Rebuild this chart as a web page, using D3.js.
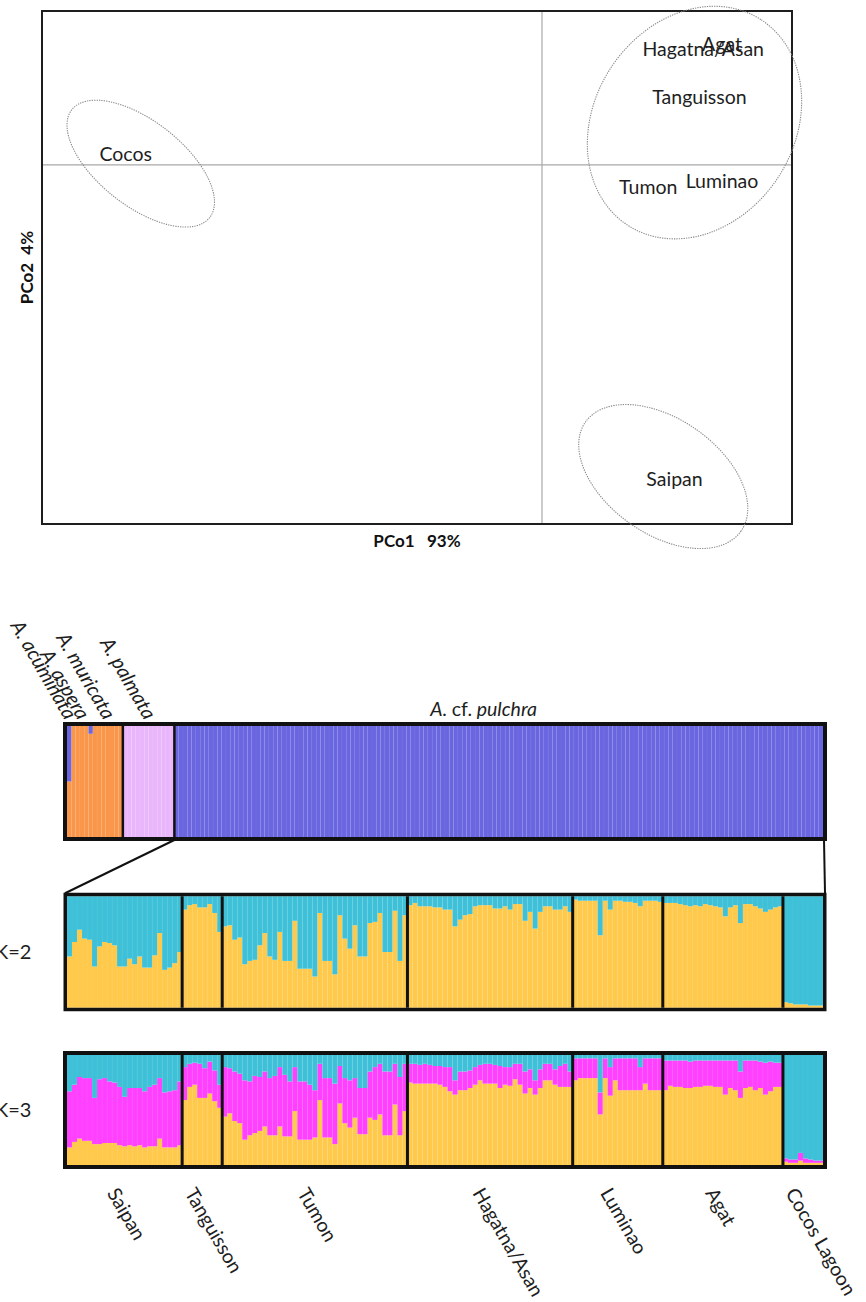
<!DOCTYPE html>
<html>
<head>
<meta charset="utf-8">
<script src="https://cdn.jsdelivr.net/npm/d3@7"></script>
<style>
  html, body { margin: 0; padding: 0; background: #fff; overflow: hidden; }
  svg { display: block; font-family: Lato, "Open Sans", sans-serif; }
</style>
</head>
<body>
<svg id="fig" width="866" height="1302"></svg>
<script>
// ---------- Principal coordinates analysis ----------
const pcoSites   = ["Cocos", "Hagatna/Asan", "Agat", "Tanguisson", "Tumon", "Luminao", "Saipan"];
const pco1Scores = [-33.3, 12.9, 14.4, 12.6, 8.5, 14.4, 10.6];
const pco2Scores = [0.8, 9.0, 9.4, 5.3, -1.7, -1.3, -24.5];
const pco1Extent = [-40, 20];
const pco2Extent = [12, -28];
const pcoAxisTitles = ["PCo1   93%", "PCo2  4%"];

// grouping ellipses (centre, semi-axes in PCo units, tilt in degrees)
const groupCentre1 = [-32.1, 12.2, 9.7];
const groupCentre2 = [0.1, 3.3, -24.3];
const groupMajor   = [7.0, 9.8, 7.6];
const groupMinor   = [3.4, 8.0, 4.6];
const groupTilt    = [38, -57, 35];

// ---------- Admixture: species level ----------
const speciesNames = ["A. acuminata", "A. aspera", "A. muricata", "A. palmata", "A. cf. pulchra"];
const acuminataBlue = [50];
const asperaBlue    = [0, 0, 0, 0, 7];
const muricataBlue  = [0, 0, 0, 0, 0, 0, 0];
const palmataPink   = [100, 100, 100, 100, 100, 100, 100, 100, 100, 100, 100, 100];
const pulchraBlue   = [
  100, 100, 100, 100, 100, 100, 100, 100, 100, 100, 100, 100, 100, 100, 100, 100, 100, 100, 100, 100,
  100, 100, 100, 100, 100, 100, 100, 100, 100, 100, 100, 100, 100, 100, 100, 100, 100, 100, 100, 100,
  100, 100, 100, 100, 100, 100, 100, 100, 100, 100, 100, 100, 100, 100, 100, 100, 100, 100, 100, 100,
  100, 100, 100, 100, 100, 100, 100, 100, 100, 100, 100, 100, 100, 100, 100, 100, 100, 100, 100, 100,
  100, 100, 100, 100, 100, 100, 100, 100, 100, 100, 100, 100, 100, 100, 100, 100, 100, 100, 100, 100,
  100, 100, 100, 100, 100, 100, 100, 100, 100, 100, 100, 100, 100, 100, 100, 100, 100, 100, 100, 100,
  100, 100, 100, 100, 100, 100, 100, 100, 100, 100, 100, 100, 100, 100, 100, 100, 100, 100, 100, 100,
  100, 100, 100, 100, 100, 100, 100, 100, 100, 100, 100
];
const dividedSpecies = ["A. palmata", "A. cf. pulchra"];

// ---------- Admixture: A. cf. pulchra populations ----------
const populations = ["Saipan", "Tanguisson", "Tumon", "Hagatna/Asan", "Luminao", "Agat", "Cocos Lagoon"];

// K = 2, yellow membership (%) ; remainder is cyan
const k2Saipan = [46, 59, 70, 62, 61, 37, 55, 59, 58, 56, 37, 37, 44, 39, 46, 36, 36, 47, 67, 34, 36, 40, 50];
const k2Tanguisson = [88, 92, 93, 90, 90, 93, 85, 68];
const k2Tumon = [73, 74, 61, 63, 39, 42, 43, 56, 67, 46, 43, 68, 42, 42, 78, 35, 35, 35, 28, 85, 42, 42, 30, 83, 62, 53, 74, 46, 46, 76, 77, 85, 50, 50, 87, 42, 83];
const k2Hagatna = [92, 94, 91, 91, 91, 90, 90, 88, 88, 73, 79, 83, 84, 91, 92, 92, 92, 89, 89, 91, 88, 93, 93, 78, 86, 71, 86, 91, 91, 88, 88, 91, 86];
const k2Luminao = [97, 96, 96, 96, 96, 65, 96, 88, 96, 96, 95, 95, 94, 91, 96, 96, 96, 95];
const k2Agat = [94, 94, 94, 93, 92, 91, 92, 91, 93, 92, 91, 90, 82, 90, 92, 76, 93, 93, 91, 89, 86, 88, 90, 91];
const k2Cocos = [5, 4, 3, 3, 3, 2, 2, 2];

// K = 3, cyan and yellow membership (%) ; remainder is magenta
const k3SaipanCyan = [33, 27, 20, 21, 21, 39, 22, 21, 24, 25, 29, 38, 30, 30, 30, 33, 29, 27, 21, 34, 33, 32, 24];
const k3SaipanYellow = [16, 21, 24, 22, 22, 19, 19, 20, 20, 20, 18, 17, 18, 17, 18, 16, 17, 17, 24, 16, 16, 16, 18];
const k3TanguissonCyan = [11, 8, 7, 8, 12, 6, 14, 27];
const k3TanguissonYellow = [59, 71, 73, 61, 61, 65, 58, 52];
const k3TumonCyan = [11, 12, 15, 17, 23, 24, 19, 20, 15, 21, 19, 11, 18, 24, 11, 24, 24, 27, 32, 8, 21, 21, 26, 10, 21, 23, 21, 30, 30, 15, 11, 8, 15, 15, 8, 20, 8];
const k3TumonYellow = [44, 47, 40, 38, 23, 27, 29, 31, 35, 27, 27, 35, 26, 26, 49, 23, 23, 23, 25, 59, 25, 25, 19, 56, 38, 34, 43, 28, 28, 43, 41, 46, 27, 27, 55, 27, 49];
const k3HagatnaCyan = [8, 8, 9, 8, 9, 10, 10, 11, 11, 23, 15, 15, 14, 11, 9, 8, 8, 9, 10, 11, 11, 8, 8, 15, 13, 23, 13, 8, 8, 13, 10, 8, 15];
const k3HagatnaYellow = [75, 74, 74, 74, 74, 74, 73, 71, 67, 64, 68, 68, 70, 73, 77, 74, 74, 74, 70, 73, 72, 78, 73, 65, 70, 64, 70, 77, 77, 73, 71, 71, 71];
const k3LuminaoCyan = [3, 3, 3, 3, 3, 34, 3, 11, 3, 3, 3, 3, 3, 11, 3, 3, 3, 3];
const k3LuminaoYellow = [77, 79, 79, 79, 79, 46, 79, 63, 77, 68, 68, 68, 68, 68, 74, 68, 68, 68];
const k3AgatCyan = [5, 5, 5, 5, 5, 6, 5, 5, 5, 5, 5, 5, 5, 5, 5, 15, 5, 5, 5, 6, 7, 6, 7, 7];
const k3AgatYellow = [68, 72, 71, 71, 70, 70, 71, 71, 72, 72, 71, 71, 64, 70, 68, 61, 70, 71, 68, 70, 64, 67, 71, 71];
const k3CocosCyan = [94, 95, 95, 89, 94, 95, 96, 96];
const k3CocosYellow = [3, 2, 2, 4, 2, 2, 2, 2];

const kLabels = ["K=2", "K=3"];

const clusterColour = {
  yellow: "#FFC94B", cyan: "#3EC1D8", magenta: "#FF40FF",
  orange: "#F9964A", pink: "#EAB6FB", blue: "#6A66E0"
};

const svg = d3.select("#fig");

// =====================================================
// PCoA panel
// =====================================================
const frame = { left: 42, right: 792, top: 11, bottom: 524 };
const xP = d3.scaleLinear().domain(pco1Extent).range([frame.left, frame.right]);
const yP = d3.scaleLinear().domain(pco2Extent).range([frame.top, frame.bottom]);
const unit = xP(1) - xP(0);

const pg = svg.append("g");

// zero lines
pg.append("line")
  .attr("x1", xP(0)).attr("x2", xP(0))
  .attr("y1", frame.top).attr("y2", frame.bottom)
  .attr("stroke", "#a8a8a8").attr("stroke-width", 1.2);
pg.append("line")
  .attr("x1", frame.left).attr("x2", frame.right)
  .attr("y1", yP(0)).attr("y2", yP(0))
  .attr("stroke", "#a8a8a8").attr("stroke-width", 1.2);

// frame
pg.append("rect")
  .attr("x", frame.left).attr("y", frame.top)
  .attr("width", frame.right - frame.left).attr("height", frame.bottom - frame.top)
  .attr("fill", "none").attr("stroke", "#1e1e1e").attr("stroke-width", 2);

// ellipses around groups of sites
pg.selectAll("ellipse.group")
  .data(d3.range(groupCentre1.length))
  .join("ellipse")
  .attr("class", "group")
  .attr("cx", i => xP(groupCentre1[i]))
  .attr("cy", i => yP(groupCentre2[i]))
  .attr("rx", i => groupMajor[i] * unit)
  .attr("ry", i => groupMinor[i] * unit)
  .attr("transform", i => `rotate(${groupTilt[i]},${xP(groupCentre1[i])},${yP(groupCentre2[i])})`)
  .attr("fill", "none")
  .attr("stroke", "#8a8a8a")
  .attr("stroke-width", 1.1)
  .attr("stroke-dasharray", "1.3,1.1");

// site names
pg.selectAll("text.site")
  .data(pcoSites)
  .join("text")
  .attr("class", "site")
  .attr("x", (d, i) => xP(pco1Scores[i]))
  .attr("y", (d, i) => yP(pco2Scores[i]))
  .attr("dy", "0.35em")
  .attr("text-anchor", "middle")
  .attr("font-size", 19.5)
  .attr("fill", "#1e1e1e")
  .text(d => d);

// axis titles
pg.append("text")
  .attr("x", (frame.left + frame.right) / 2)
  .attr("y", frame.bottom + 23)
  .attr("text-anchor", "middle")
  .attr("font-size", 17).attr("font-weight", 700)
  .style("white-space", "pre")
  .attr("fill", "#111")
  .text(pcoAxisTitles[0]);
pg.append("text")
  .attr("transform", `translate(${frame.left - 9},${(frame.top + frame.bottom) / 2}) rotate(-90)`)
  .attr("text-anchor", "middle")
  .attr("font-size", 17).attr("font-weight", 700)
  .style("white-space", "pre")
  .attr("fill", "#111")
  .text(pcoAxisTitles[1]);

// =====================================================
// Admixture bar plots
// =====================================================
const barLeft = 67, barRight = 823;
const panels = {
  species: { top: 726, bottom: 837, border: 4 },
  k2:      { top: 896.25, bottom: 1007.75, border: 3.5 },
  k3:      { top: 1055, bottom: 1165, border: 4 }
};

function drawAdmixture(rows, keys, panel, groupStarts, dividerWidth) {
  const x = d3.scaleBand().domain(d3.range(rows.length)).range([barLeft, barRight]);
  const y = d3.scaleLinear().domain([0, 100]).range([panel.bottom, panel.top]);
  const series = d3.stack().keys(keys)(rows);
  const g = svg.append("g");

  g.selectAll("g.layer")
    .data(series)
    .join("g")
    .attr("fill", s => clusterColour[s.key])
    .selectAll("rect")
    .data(s => s)
    .join("rect")
    .attr("x", (d, i) => x(i))
    .attr("width", x.bandwidth() + 0.02)
    .attr("y", d => y(d[1]))
    .attr("height", d => Math.max(0, y(d[0]) - y(d[1])));

  // faint separators between individuals
  g.selectAll("line.ind")
    .data(d3.range(1, rows.length))
    .join("line")
    .attr("x1", i => x(i)).attr("x2", i => x(i))
    .attr("y1", panel.top).attr("y2", panel.bottom)
    .attr("stroke", "#ffffff").attr("stroke-opacity", 0.07).attr("stroke-width", 0.6);

  // group dividers
  g.selectAll("line.div")
    .data(groupStarts)
    .join("line")
    .attr("x1", s => x(s)).attr("x2", s => x(s))
    .attr("y1", panel.top).attr("y2", panel.bottom)
    .attr("stroke", "#111").attr("stroke-width", dividerWidth);

  // frame
  const b = panel.border;
  g.append("rect")
    .attr("x", barLeft - b / 2).attr("y", panel.top - b / 2)
    .attr("width", barRight - barLeft + b).attr("height", panel.bottom - panel.top + b)
    .attr("fill", "none").attr("stroke", "#111").attr("stroke-width", b);

  return x;
}

function cumulativeStarts(counts) {
  const starts = [];
  let acc = 0;
  counts.forEach(c => { starts.push(acc); acc += c; });
  return starts;
}

// ---- species panel ----
const speciesTable = [
  { name: speciesNames[0], blue: acuminataBlue },
  { name: speciesNames[1], blue: asperaBlue },
  { name: speciesNames[2], blue: muricataBlue },
  { name: speciesNames[3], pink: palmataPink },
  { name: speciesNames[4], blue: pulchraBlue }
];
const speciesRows = speciesTable.flatMap(s => {
  if (s.pink) return s.pink.map(p => ({ orange: 100 - p, pink: p, blue: 0 }));
  if (s.name === speciesNames[4]) return s.blue.map(b => ({ orange: 0, pink: 0, blue: b }));
  return s.blue.map(b => ({ orange: 100 - b, pink: 0, blue: b }));
});
const speciesCounts = speciesTable.map(s => (s.pink || s.blue).length);
const speciesStarts = cumulativeStarts(speciesCounts);
const speciesDividers = speciesTable
  .map((s, i) => dividedSpecies.includes(s.name) ? speciesStarts[i] : null)
  .filter(v => v !== null);

const xSp = drawAdmixture(speciesRows, ["orange", "pink", "blue"], panels.species, speciesDividers, 2.5);

// species labels
const bwSp = xSp.bandwidth();
speciesTable.forEach((s, i) => {
  const cx = xSp(speciesStarts[i]) + speciesCounts[i] * bwSp / 2;
  if (i === speciesTable.length - 1) {
    const t = svg.append("text")
      .attr("x", cx - 15).attr("y", panels.species.top - 10)
      .attr("text-anchor", "middle").attr("font-size", 19.5).attr("fill", "#1e1e1e");
    t.append("tspan").attr("font-style", "italic").text("A. ");
    t.append("tspan").text("cf.");
    t.append("tspan").attr("font-style", "italic").text(" pulchra");
  } else {
    svg.append("text")
      .attr("transform", `translate(${cx - 4},${panels.species.top - 5}) rotate(60)`)
      .attr("text-anchor", "end")
      .attr("font-size", 20).attr("font-style", "italic").attr("fill", "#1e1e1e")
      .text(s.name);
  }
});

// ---- K = 2 and K = 3 panels ----
const k2Yellow = [k2Saipan, k2Tanguisson, k2Tumon, k2Hagatna, k2Luminao, k2Agat, k2Cocos];
const k3Cyan = [k3SaipanCyan, k3TanguissonCyan, k3TumonCyan, k3HagatnaCyan, k3LuminaoCyan, k3AgatCyan, k3CocosCyan];
const k3Yellow = [k3SaipanYellow, k3TanguissonYellow, k3TumonYellow, k3HagatnaYellow, k3LuminaoYellow, k3AgatYellow, k3CocosYellow];

const k2Rows = k2Yellow.flatMap(arr => arr.map(v => ({ yellow: v, cyan: 100 - v })));
const k3Rows = k3Cyan.flatMap((arr, g) => arr.map((c, i) => {
  const yv = k3Yellow[g][i];
  return { yellow: yv, magenta: Math.max(0, 100 - c - yv), cyan: c };
}));

const popCounts = k2Yellow.map(a => a.length);
const popStarts = cumulativeStarts(popCounts);
const popDividers = popStarts.slice(1);

const xK2 = drawAdmixture(k2Rows, ["yellow", "cyan"], panels.k2, popDividers, 3);
const xK3 = drawAdmixture(k3Rows, ["yellow", "magenta", "cyan"], panels.k3, popDividers, 3);

// connecting lines from the A. cf. pulchra block to the population panels
const pulchraStartX = xSp(speciesStarts[4]);
const zoomLines = [
  [[pulchraStartX, panels.species.bottom + 3], [barLeft - 2, panels.k2.top - 3]],
  [[barRight + 1, panels.species.bottom + 3], [barRight + 2, panels.k2.top - 3]]
];
svg.selectAll("path.zoom")
  .data(zoomLines)
  .join("path")
  .attr("d", d => d3.line()(d))
  .attr("stroke", "#111").attr("stroke-width", 2).attr("fill", "none");

// K labels (left edge trimmed by the page border)
[panels.k2, panels.k3].forEach((p, i) => {
  svg.append("text")
    .attr("x", -5).attr("y", (p.top + p.bottom) / 2)
    .attr("dy", "0.35em")
    .attr("text-anchor", "start")
    .attr("font-size", 20).attr("fill", "#1e1e1e")
    .text(kLabels[i]);
});

// population labels
const bwK = xK3.bandwidth();
populations.forEach((name, i) => {
  const cx = xK3(popStarts[i]) + popCounts[i] * bwK / 2;
  svg.append("text")
    .attr("transform", `translate(${cx - 18},${panels.k3.bottom + 28}) rotate(60)`)
    .attr("text-anchor", "start")
    .attr("font-size", 19.5).attr("fill", "#1e1e1e")
    .text(name);
});
</script>
</body>
</html>
